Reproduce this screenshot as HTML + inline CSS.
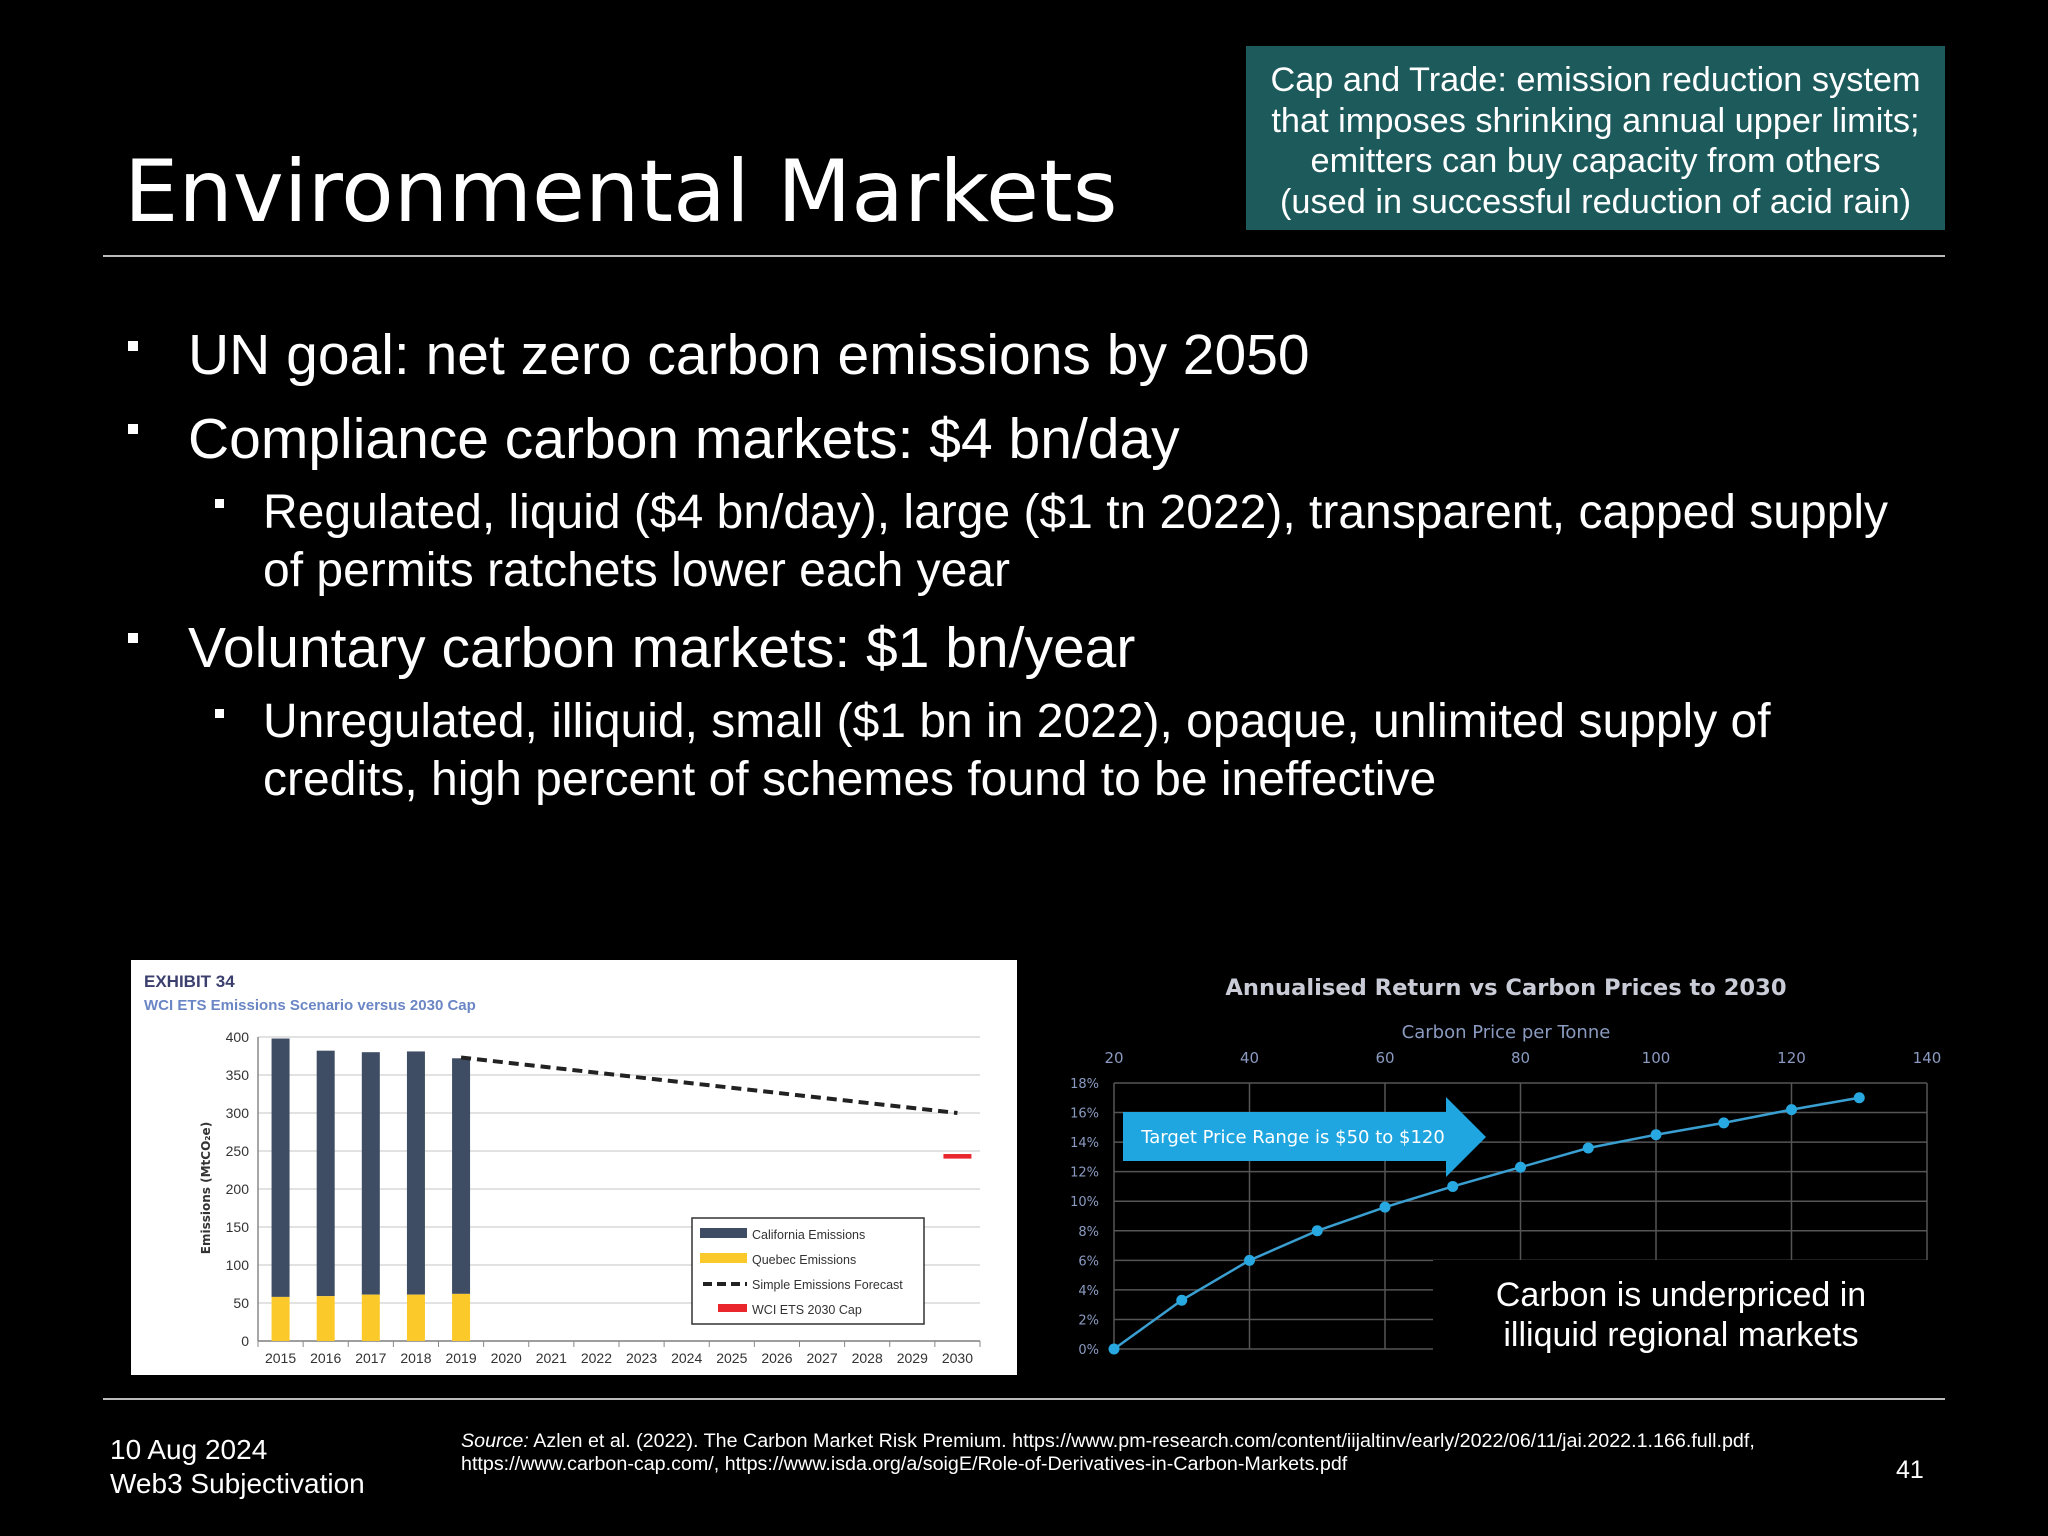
<!DOCTYPE html>
<html><head><meta charset="utf-8">
<style>
html,body{margin:0;padding:0;background:#000;}
body{width:2048px;height:1536px;position:relative;overflow:hidden;font-family:"Liberation Sans",sans-serif;color:#fff;}
.abs{position:absolute;white-space:nowrap;}
.t1{font-size:57px;line-height:60px;}
.t2{font-size:48px;line-height:58px;}
.sq{position:absolute;background:#fff;}
</style></head>
<body>
<div class="abs" style="left:124px;top:142px;font-family:'DejaVu Sans','Liberation Sans',sans-serif;font-size:86px;line-height:100px;">Environmental Markets</div>
<div class="abs" style="left:1246px;top:46px;width:699px;height:184px;background:#1d5a5c;text-align:center;font-size:34.3px;line-height:40.5px;padding-top:14px;box-sizing:border-box;">Cap and Trade: emission reduction system<br>that imposes shrinking annual upper limits;<br>emitters can buy capacity from others<br>(used in successful reduction of acid rain)</div>
<div class="abs" style="left:103px;top:255px;width:1842px;height:2px;background:#bbb;"></div>

<div class="sq" style="left:128px;top:341px;width:10px;height:10px;"></div>
<div class="abs t1" style="left:188px;top:325px;">UN goal: net zero carbon emissions by 2050</div>
<div class="sq" style="left:128px;top:424px;width:10px;height:10px;"></div>
<div class="abs t1" style="left:188px;top:409px;">Compliance carbon markets: $4 bn/day</div>
<div class="sq" style="left:215px;top:499px;width:9px;height:9px;"></div>
<div class="abs t2" style="left:263px;top:484px;">Regulated, liquid ($4 bn/day), large ($1 tn 2022), transparent, capped supply<br>of permits ratchets lower each year</div>
<div class="sq" style="left:128px;top:633px;width:10px;height:10px;"></div>
<div class="abs t1" style="left:188px;top:618px;">Voluntary carbon markets: $1 bn/year</div>
<div class="sq" style="left:215px;top:709px;width:9px;height:9px;"></div>
<div class="abs t2" style="left:263px;top:693px;">Unregulated, illiquid, small ($1 bn in 2022), opaque, unlimited supply of<br>credits, high percent of schemes found to be ineffective</div>

<svg id="charts" width="2048" height="1536" style="position:absolute;left:0;top:0;" xmlns="http://www.w3.org/2000/svg"></svg>

<div class="abs" style="left:103px;top:1398px;width:1842px;height:2px;background:#bbb;"></div>
<div class="abs" style="left:110px;top:1433px;font-size:28px;line-height:34px;">10 Aug 2024<br>Web3 Subjectivation</div>
<div class="abs" style="left:461px;top:1430px;font-size:19.7px;line-height:23px;"><i>Source:</i> Azlen et al. (2022). The Carbon Market Risk Premium. https://www.pm-research.com/content/iijaltinv/early/2022/06/11/jai.2022.1.166.full.pdf,<br>https://www.carbon-cap.com/, https://www.isda.org/a/soigE/Role-of-Derivatives-in-Carbon-Markets.pdf</div>
<div class="abs" style="left:1896px;top:1456px;font-size:25px;">41</div>

<script>
// Left chart data
const years = ['2015','2016','2017','2018','2019','2020','2021','2022','2023','2024','2025','2026','2027','2028','2029','2030'];
const californiaTotal = [398,382,380,381,372];
const quebec = [58,59,61,61,62];
const forecastYears = ['2019','2030'];
const forecastVals = [373,300];
const capYear = '2030';
const capVal = 243;
const yTicks = [0,50,100,150,200,250,300,350,400];
// Right chart data
const prices = [20,30,40,50,60,70,80,90,100,110,120,130];
const returns = [0,3.3,6,8,9.6,11,12.3,13.6,14.5,15.3,16.2,17];
const xTicks2 = [20,40,60,80,100,120,140];
const yTicks2 = [0,2,4,6,8,10,12,14,16,18];

const svg = document.getElementById('charts');
const NS = 'http://www.w3.org/2000/svg';
function mk(tag, attrs, parent){const e=document.createElementNS(NS,tag);for(const k in attrs)e.setAttribute(k,attrs[k]);(parent||svg).appendChild(e);return e;}

// ---- Left chart ----
const L = mk('g',{});


const bg = mk('rect',{x:131,y:960,width:886,height:415,fill:'#fff'},L);


const x0=258,x1=980,yb=1341,yt=1037;
const bw=(x1-x0)/years.length;
const xc = y => x0 + (years.indexOf(y)+0.5)*bw;
const ys = v => yb - (v/400)*(yb-yt);
let t=mk('text',{x:144,y:987,'font-size':17,'font-weight':'bold',fill:'#3a3f6e','font-family':'Liberation Sans, sans-serif'},L);t.textContent='EXHIBIT 34';

t=mk('text',{x:144,y:1010,'font-size':15,'font-weight':'bold',fill:'#6b86c4','font-family':'Liberation Sans, sans-serif'},L);t.textContent='WCI ETS Emissions Scenario versus 2030 Cap';

yTicks.forEach(v=>{
  const g=mk('line',{x1:x0,x2:x1,y1:ys(v),y2:ys(v),stroke:'#e2e2e2','stroke-width':2},L);
  
  const tx=mk('text',{x:x0-9,y:ys(v)+5,'font-size':14,'text-anchor':'end',fill:'#333','font-family':'Liberation Sans, sans-serif'},L);tx.textContent=v;
  
});
mk('line',{x1:x0,x2:x0,y1:yt,y2:yb,stroke:'#888','stroke-width':1.5},L);
mk('line',{x1:x0,x2:x1,y1:yb,y2:yb,stroke:'#888','stroke-width':1.5},L);
years.forEach((y,i)=>{
  mk('line',{x1:x0+i*bw,x2:x0+i*bw,y1:yb,y2:yb+6,stroke:'#888'},L);
  const tx=mk('text',{x:xc(y),y:yb+22,'font-size':14,'text-anchor':'middle',fill:'#333','font-family':'Liberation Sans, sans-serif'},L);tx.textContent=y;
  
});
mk('line',{x1:x1,x2:x1,y1:yb,y2:yb+6,stroke:'#888'},L);
t=mk('text',{x:0,y:0,'font-size':12,'font-weight':'bold',fill:'#333','text-anchor':'middle',transform:'translate(210,1188) rotate(-90)','font-family':'DejaVu Sans, sans-serif'},L);t.textContent='Emissions (MtCO₂e)';

californiaTotal.forEach((v,i)=>{
  const cx=xc(years[i]);
  const b=mk('rect',{x:cx-9,y:ys(v),width:18,height:ys(quebec[i])-ys(v),fill:'#3e4d63'},L);
  
  const q=mk('rect',{x:cx-9,y:ys(quebec[i]),width:18,height:yb-ys(quebec[i]),fill:'#fcc92a'},L);
  
});
const fl=mk('line',{x1:xc(forecastYears[0]),y1:ys(forecastVals[0]),x2:xc(forecastYears[1]),y2:ys(forecastVals[1]),stroke:'#222','stroke-width':4,'stroke-dasharray':'10,6'},L);

const cp=mk('rect',{x:xc(capYear)-14,y:ys(capVal+3),width:28,height:ys(capVal-3)-ys(capVal+3),fill:'#e8262b'},L);

// legend
const lg=mk('g',{},L);
mk('rect',{x:692,y:1218,width:232,height:106,fill:'#fff',stroke:'#333','stroke-width':1.5},lg);
const leg=[['California Emissions','rect','#3e4d63'],['Quebec Emissions','rect','#fcc92a'],['Simple Emissions Forecast','dash','#222'],['WCI ETS 2030 Cap','red','#e8262b']];
leg.forEach((e,i)=>{
  const yy=1234+i*25;
  if(e[1]==='rect') mk('rect',{x:700,y:yy-6,width:47,height:10,fill:e[2]},lg);
  else if(e[1]==='dash') mk('line',{x1:703,x2:747,y1:yy,y2:yy,stroke:e[2],'stroke-width':4,'stroke-dasharray':'9,5'},lg);
  else mk('rect',{x:718,y:yy-5,width:29,height:8,fill:e[2]},lg);
  const tx=mk('text',{x:752,y:yy+5,'font-size':12.5,fill:'#333','font-family':'Liberation Sans, sans-serif'},lg);tx.textContent=e[0];
  
});

// ---- Right chart ----
const R=mk('g',{});
const px0=1114,px1=1927,py0=1349,py1=1083;
const xs2=v=>px0+(v-20)/120*(px1-px0);
const ys2=v=>py0-(v/18)*(py0-py1);
t=mk('text',{x:1506,y:995,'font-size':22.6,'font-weight':'bold',fill:'#c9ccd6','text-anchor':'middle','font-family':'DejaVu Sans, sans-serif'},R);t.textContent='Annualised Return vs Carbon Prices to 2030';

t=mk('text',{x:1506,y:1038,'font-size':18,fill:'#8a9ac0','text-anchor':'middle','font-family':'DejaVu Sans, sans-serif'},R);t.textContent='Carbon Price per Tonne';

xTicks2.forEach(v=>{
  const g=mk('line',{x1:xs2(v),x2:xs2(v),y1:py1,y2:py0,stroke:'#555','stroke-width':1.5},R);
  
  const tx=mk('text',{x:xs2(v),y:1063,'font-size':15,fill:'#8a9ac0','text-anchor':'middle','font-family':'DejaVu Sans, sans-serif'},R);tx.textContent=v;
  
});
yTicks2.forEach(v=>{
  const g=mk('line',{x1:px0,x2:px1,y1:ys2(v),y2:ys2(v),stroke:'#555','stroke-width':1.5},R);
  
  const tx=mk('text',{x:1099,y:ys2(v)+5,'font-size':13,fill:'#8a9ac0','text-anchor':'end','font-family':'DejaVu Sans, sans-serif'},R);tx.textContent=v+'%';
  
});
const pl=mk('polyline',{points:prices.map((p,i)=>xs2(p)+','+ys2(returns[i])).join(' '),fill:'none',stroke:'#3a9fd0','stroke-width':2.5},R);

prices.forEach((p,i)=>{
  const c=mk('circle',{cx:xs2(p),cy:ys2(returns[i]),r:5.5,fill:'#28a8e0'},R);
  
});
const ar=mk('polygon',{points:'1123,1112 1446,1112 1446,1097 1486,1137 1446,1177 1446,1161 1123,1161',fill:'#1fa6e0'},R);

t=mk('text',{x:1293,y:1143,'font-size':18,fill:'#fff','text-anchor':'middle','font-family':'DejaVu Sans, sans-serif'},R);t.textContent='Target Price Range is $50 to $120';

const cov=mk('rect',{x:1433,y:1260,width:520,height:120,fill:'#000'},R);

t=mk('text',{x:1681,y:1306,'font-size':34,fill:'#fff','text-anchor':'middle','font-family':'Liberation Sans, sans-serif'},R);t.textContent='Carbon is underpriced in';

t=mk('text',{x:1681,y:1346,'font-size':34,fill:'#fff','text-anchor':'middle','font-family':'Liberation Sans, sans-serif'},R);t.textContent='illiquid regional markets';

</script>
</body></html>
